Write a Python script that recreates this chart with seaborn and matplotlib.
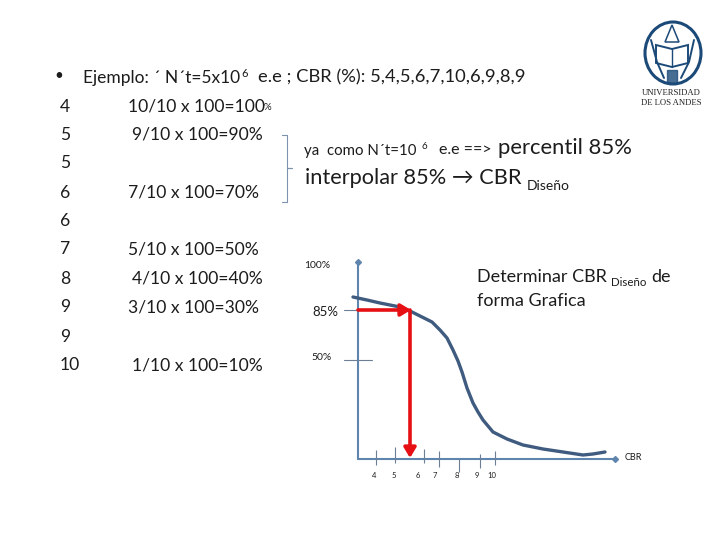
import numpy as np
import pandas as pd
import matplotlib
matplotlib.use("Agg")
import matplotlib.pyplot as plt
from matplotlib.patches import Ellipse, Rectangle, Polygon
import seaborn as sns

# slide positions are read in picture pixels, the chart is only a sketch
cbr_sorted = ["4", "5", "5", "6", "6", "7", "8", "9", "9", "10"]
row_y = [105, 133, 162, 191, 220, 248, 277, 306, 335, 364]
calc_text = ["10/10 x 100=100", "9/10 x 100=90%", "7/10 x 100=70%", "5/10 x 100=50%",
             "4/10 x 100=40%", "3/10 x 100=30%", "1/10 x 100=10%"]
calc_x = [128, 132, 128, 128, 132, 128, 132]
calc_y = [105, 133, 191, 248, 277, 306, 364]

curve_x = [353, 367, 380, 400, 412, 422, 432, 440, 447, 453, 458, 462, 467, 473, 478,
           483, 493, 507, 523, 543, 563, 583, 593, 605]
curve_y = [297, 300, 303, 307, 312, 317, 322, 330, 338, 350, 361, 372, 388, 403, 412,
           420, 432, 439, 445, 449, 452, 455, 454, 452]
curve = pd.DataFrame({"x": curve_x, "y": curve_y})

cbr_ticks = ["4", "5", "6", "7", "8", "9", "10"]
tick_x = [375.5, 395, 424, 439, 459, 480, 495]
tick_top = [450, 447, 449, 451, 459, 454, 451]
tick_bot = [465, 463, 463, 467, 472, 468, 465]
label_x = [374, 393.5, 418, 434.5, 457, 476.5, 491.5]

AXIS = "#5f84ad"
CURVE = "#3f5b7f"
RED = "#e60f14"
FONT = ["Lato", "DejaVu Sans"]
TXT = "#1c1c1c"

sns.set_theme(style="white")
plt.rcParams["font.family"] = FONT

fig = plt.figure(figsize=(7.2, 5.4), dpi=100)
ax = fig.add_axes([0, 0, 1, 1])
ax.set_xlim(0, 720)
ax.set_ylim(540, 0)
ax.axis("off")


def put(x, y, s, size=12.6, **kw):
    kw.setdefault("color", TXT)
    kw.setdefault("ha", "left")
    ax.text(x, y + 1.5, s, fontsize=size, va="center", **kw)


# left column
put(54, 75, "•", 11)
put(83, 76, "Ejemplo: ´ N´t=5x10", 12.5)
put(241, 72, "6", 8)
put(258, 76, "e.e ; CBR (%): 5,4,5,6,7,10,6,9,8,9", 13.2)
for c, y in zip(cbr_sorted, row_y):
    put(60, y, c)
for s, x, y in zip(calc_text, calc_x, calc_y):
    put(x, y, s)
put(264, 106, "%", 7)

# bracket
ax.plot([282, 287, 287, 292, 287, 287, 282], [135, 135, 168, 168, 168, 202, 202],
        color="#7d93ad", lw=0.8)

# right text
put(304, 149, "ya  como N´t=10", 10.8)
put(421, 145, "6", 7)
put(439, 149, "e.e ==>", 11.5)
put(498, 147, "percentil 85%", 15.8)
put(305, 177, "interpolar 85% → CBR", 15.7)
put(527, 185, "Diseño", 10)
put(477, 276, "Determinar CBR", 13)
put(611, 281, "Diseño", 8.3)
put(651, 276, "de", 13)
put(477, 300, "forma Grafica", 13)

# sketch axes
ax.plot([358, 358], [262, 459], color=AXIS, lw=1.5)
ax.plot([358, 615], [459, 459], color=AXIS, lw=1.5)
ax.plot([358], [262], marker="D", ms=3, color=AXIS)
ax.plot([615], [459], marker="D", ms=3, color=AXIS)
ax.plot([344, 372], [360, 360], color="#6d7f95", lw=0.8)
ax.plot([344, 358], [310, 310], color="#6d7f95", lw=0.8)
put(304, 264, "100%", 7.5)
put(312, 310, "85%", 9.5)
put(311, 356, "50%", 7.5)

sns.lineplot(data=curve, x="x", y="y", ax=ax, color=CURVE, lw=2.4, sort=False,
             estimator=None, solid_joinstyle="round", legend=False)
ax.axis("off")

ax.vlines(tick_x, tick_top, tick_bot, color="#6d7f95", lw=0.8)
for s, x in zip(cbr_ticks, label_x):
    put(x, 474, s, 5.5, ha="center")
put(625, 456, "CBR", 6.5)

# red arrows
ax.annotate("", xy=(411, 310), xytext=(358, 310),
            arrowprops=dict(arrowstyle="-|>,head_width=0.3,head_length=0.5", color=RED, lw=2.6,
                            shrinkA=0, shrinkB=0))
ax.annotate("", xy=(410, 458), xytext=(410, 310),
            arrowprops=dict(arrowstyle="-|>,head_width=0.3,head_length=0.5", color=RED, lw=2.6,
                            shrinkA=0, shrinkB=0))

# logo, simplified
NAVY = "#1c4a78"
ax.add_patch(Ellipse((673, 53), 56, 62, fill=False, ec=NAVY, lw=2.2))
ax.add_patch(Polygon([[656, 45], [672, 49], [688, 45], [688, 63], [672, 67], [656, 63]],
                     fc="white", ec=NAVY, lw=1.4))
ax.plot([672, 672], [49, 67], color=NAVY, lw=1)
ax.add_patch(Polygon([[665, 42], [672, 25], [679, 42]], fc="white", ec=NAVY, lw=1.1))
ax.add_patch(Rectangle((667, 70), 10, 13, fc=NAVY, ec=NAVY, alpha=0.8))
ax.plot([651, 657, 664], [40, 62, 78], color=NAVY, lw=1.4)
ax.plot([694, 689, 681], [40, 62, 78], color=NAVY, lw=1.4)
ax.text(671, 93, "UNIVERSIDAD", fontsize=6.2, color="#222222", family="Liberation Serif",
        ha="center", va="center")
ax.text(671, 103, "DE LOS ANDES", fontsize=6.2, color="#222222", family="Liberation Serif",
        ha="center", va="center")

fig.savefig("out.png", dpi=100, facecolor="white")
